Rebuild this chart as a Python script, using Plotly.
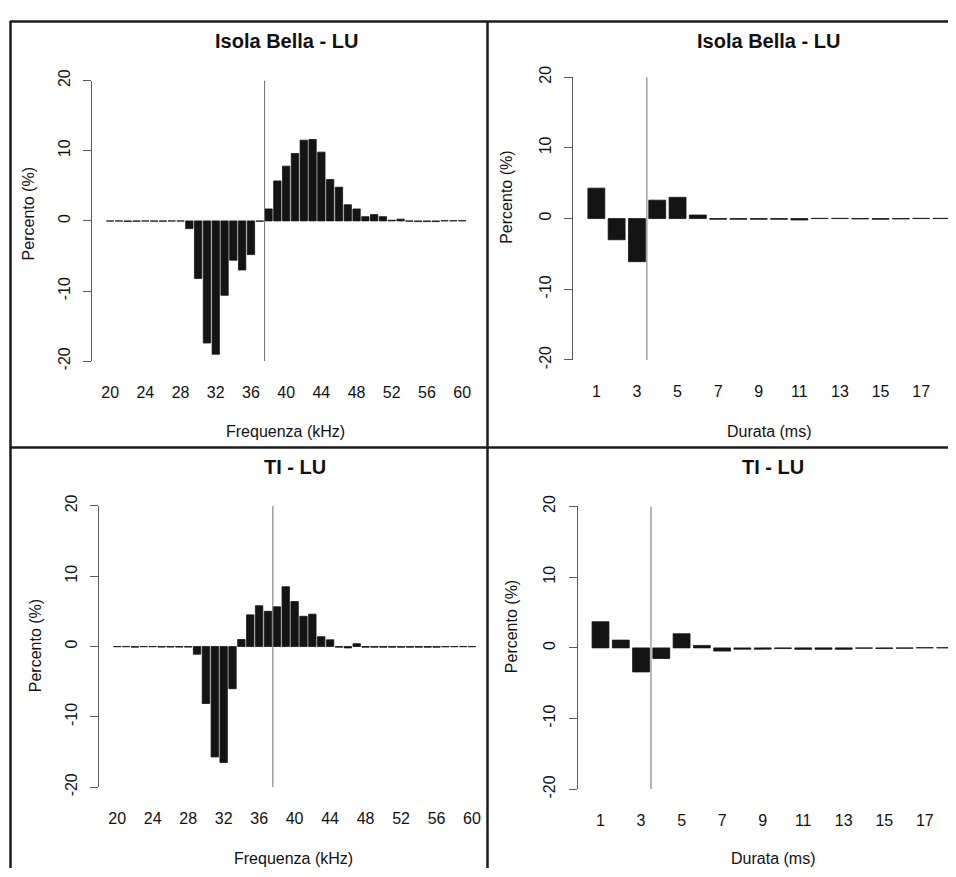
import plotly.graph_objects as go

# The page has an 8px body margin; the figure is sized to fit the 956x877 window exactly.
PAGE_W, PAGE_H, OFF = 956, 877, 8
W, H = PAGE_W - OFF, PAGE_H - OFF

# ---------------- data ----------------
freq_khz = list(range(20, 61))
isola_freq = [-0.03, -0.03, -0.08, -0.05, -0.03, -0.05, -0.05, -0.03, -0.03,
              -1.1, -8.2, -17.4, -19.0, -10.6, -5.6, -7.0, -4.8, -0.05,
              1.7, 5.7, 7.8, 9.6, 11.5, 11.6, 9.8, 5.9, 4.8, 2.3, 1.7, 0.6,
              0.9, 0.6, 0.1, 0.25, -0.05, -0.1, -0.1, -0.1, 0.03, 0.03, 0.03]
ti_freq = [-0.03, -0.03, -0.1, -0.03, -0.03, -0.08, -0.08, -0.08, -0.08,
           -1.1, -8.1, -15.7, -16.5, -6.0, 1.0, 4.5, 5.8, 5.0, 5.65, 8.5,
           6.4, 4.3, 4.6, 1.4, 0.95, -0.1, -0.2, 0.4, -0.1, -0.1, -0.1,
           -0.1, -0.1, -0.1, -0.1, -0.1, -0.1, -0.05, -0.03, -0.03, -0.03]

durata_ms = list(range(1, 19))
isola_dur = [4.3, -3.0, -6.1, 2.6, 3.0, 0.5, -0.1, -0.1, -0.1, -0.1, -0.2,
             0.03, 0.03, -0.05, -0.1, -0.05, 0.03, 0.03]
ti_dur = [3.7, 1.1, -3.4, -1.5, 2.0, 0.35, -0.45, -0.18, -0.18, -0.1, -0.2,
          -0.2, -0.2, -0.05, -0.1, -0.05, 0.03, 0.03]

freq_ticks = [20, 24, 28, 32, 36, 40, 44, 48, 52, 56, 60]
dur_ticks = [1, 3, 5, 7, 9, 11, 13, 15, 17]
y_ticks = [-20, -10, 0, 10, 20]

freq_split = 37.55
dur_split = 3.49

panel_titles = ["Isola Bella - LU", "Isola Bella - LU", "TI - LU", "TI - LU"]
x_titles = ["Frequenza (kHz)", "Durata (ms)", "Frequenza (kHz)", "Durata (ms)"]
y_title = "Percento (%)"

# ---------------- layout helpers (pixel positions in the window) ----------------
def fx(p):
    return (p - OFF) / W

def fy(p):
    return 1 - (p - OFF) / H

FONT = "Liberation Sans, Arial, sans-serif"
BAR = "#141414"
AX = "#5a5a5a"
TXT = "#111111"

def right_range(left_px, left_val, px_per_unit):
    return left_val + (PAGE_W - left_px) / px_per_unit

panels = [
    dict(x=freq_khz, y=isola_freq, xd=(92.1, 480.2), xr=(17.95, 62.05), yd=(71, 358.3),
         ticks=freq_ticks, split=freq_split, tx=286.2, ty=30.5, xtx=285.7, xty=430,
         ytx=28.5, yty=207.5),
    dict(x=durata_ms, y=isola_dur, xd=(573.4, PAGE_W), xr=(-0.13, right_range(573.4, -0.13, 20.3)),
         yd=(67.5, 357), ticks=dur_ticks, split=dur_split, tx=768.9, ty=30.5, xtx=768.7, xty=430,
         ytx=507, yty=190),
    dict(x=freq_khz, y=ti_freq, xd=(99.0, 490.2), xr=(17.95, 62.05), yd=(506.3, 794.3),
         ticks=freq_ticks, split=freq_split, tx=294.6, ty=466.7, xtx=293, xty=867,
         ytx=35, yty=650),
    dict(x=durata_ms, y=ti_dur, xd=(577.6, PAGE_W), xr=(-0.13, right_range(577.6, -0.13, 20.27)),
         yd=(506.9, 796.5), ticks=dur_ticks, split=dur_split, tx=772.8, ty=466.7, xtx=772.8, xty=867,
         ytx=511.5, yty=630),
]

fig = go.Figure()
layout = dict(
    width=W, height=H, margin=dict(l=0, r=0, t=0, b=0),
    paper_bgcolor="white", plot_bgcolor="white", showlegend=False,
    font=dict(family=FONT, color=TXT, size=16),
)
shapes = []
annotations = []

for i, p in enumerate(panels):
    n = "" if i == 0 else str(i + 1)
    xa, ya = "x" + n, "y" + n
    fig.add_trace(go.Bar(
        x=p["x"], y=p["y"], width=1 / 1.2, xaxis=xa, yaxis=ya,
        marker=dict(color=BAR, line=dict(color=BAR, width=0.8)),
        hoverinfo="x+y",
    ))
    layout["xaxis" + n] = dict(
        domain=[fx(p["xd"][0]), min(1.0, fx(p["xd"][1]))], range=list(p["xr"]), anchor=ya,
        tickmode="array", tickvals=p["ticks"], ticktext=[str(t) for t in p["ticks"]],
        showline=False, showgrid=False, zeroline=False, ticks="",
        ticklabelstandoff=20, tickfont=dict(size=16, family=FONT, color=TXT),
        fixedrange=True,
    )
    layout["yaxis" + n] = dict(
        domain=[fy(p["yd"][1]), fy(p["yd"][0])], range=[-20, 20], anchor=xa,
        tickmode="array", tickvals=y_ticks, ticktext=[str(t) for t in y_ticks],
        tickangle=-90, ticks="outside", ticklen=8, tickwidth=1, tickcolor=AX,
        showline=True, linecolor=AX, linewidth=1, showgrid=False, zeroline=False,
        ticklabelstandoff=7, tickfont=dict(size=16, family=FONT, color=TXT),
        fixedrange=True,
    )
    shapes.append(dict(type="line", xref=xa, yref=ya, x0=p["split"], x1=p["split"],
                       y0=-20, y1=20, line=dict(color="#6e6e6e", width=1)))
    annotations.append(dict(text="<b>%s</b>" % panel_titles[i], xref="paper", yref="paper",
                            x=fx(p["tx"]), y=fy(p["ty"]), xanchor="center", yanchor="middle",
                            showarrow=False, font=dict(size=20, family=FONT, color=TXT)))
    annotations.append(dict(text=x_titles[i], xref="paper", yref="paper",
                            x=fx(p["xtx"]), y=fy(p["xty"]), xanchor="center", yanchor="middle",
                            showarrow=False, font=dict(size=16, family=FONT, color=TXT)))
    annotations.append(dict(text=y_title, xref="paper", yref="paper", textangle=-90,
                            x=fx(p["ytx"]), y=fy(p["yty"]), xanchor="center", yanchor="middle",
                            showarrow=False, font=dict(size=16, family=FONT, color=TXT)))

# frame lines of the scanned figure
BORDER = dict(color="#1c1c1c", width=2.5)
shapes += [
    dict(type="line", xref="paper", yref="paper", x0=fx(10), x1=1, y0=fy(10.5), y1=fy(10.5), line=BORDER),
    dict(type="line", xref="paper", yref="paper", x0=fx(10.5), x1=fx(10.5), y0=0, y1=fy(10), line=BORDER),
    dict(type="line", xref="paper", yref="paper", x0=fx(487.5), x1=fx(487.5), y0=0, y1=fy(10), line=BORDER),
    dict(type="line", xref="paper", yref="paper", x0=fx(10), x1=1, y0=fy(446.7), y1=fy(446.7), line=BORDER),
]
layout["shapes"] = shapes
layout["annotations"] = annotations
fig.update_layout(**layout)
fig.write_html("out.html")
